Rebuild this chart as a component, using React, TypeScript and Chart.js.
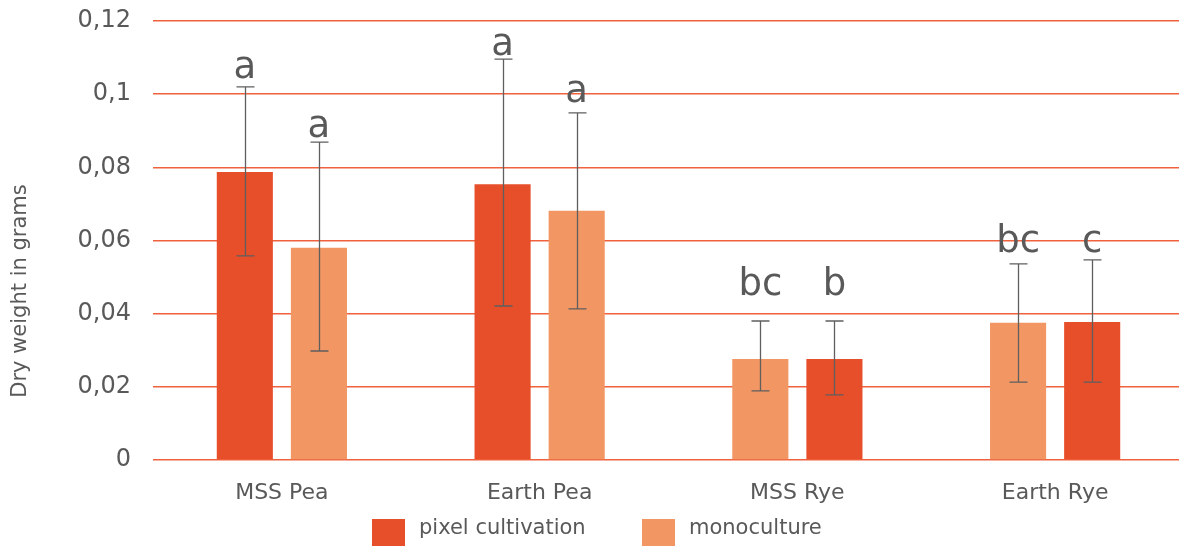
import React, { useEffect, useRef } from "react";
import { Chart, registerables } from "chart.js";

Chart.register(...registerables);

const categories = ["MSS Pea", "Earth Pea", "MSS Rye", "Earth Rye"];
const yTicks = [0, 0.02, 0.04, 0.06, 0.08, 0.1, 0.12];
const tickLabels = ["0", "0,02", "0,04", "0,06", "0,08", "0,1", "0,12"];

// first bar of each group
const firstValues = [0.0787, 0.0754, 0.0276, 0.0375];
const firstErrLow = [0.0558, 0.0421, 0.0189, 0.0213];
const firstErrHigh = [0.102, 0.1096, 0.038, 0.0536];
const firstSeries = ["pixel", "pixel", "mono", "mono"];
const firstLetters = ["a", "a", "bc", "bc"];
const firstLetterY = [0.1044, 0.1107, 0.0451, 0.0569];

// second bar of each group
const secondValues = [0.058, 0.0681, 0.0276, 0.0377];
const secondErrLow = [0.0298, 0.0413, 0.0178, 0.0213];
const secondErrHigh = [0.0869, 0.0949, 0.038, 0.0547];
const secondSeries = ["mono", "mono", "pixel", "pixel"];
const secondLetters = ["a", "a", "b", "c"];
const secondLetterY = [0.0883, 0.0979, 0.0451, 0.0569];

const legendLabels = ["pixel cultivation", "monoculture"];
const COLORS: Record<string, string> = { pixel: "#E64F2A", mono: "#F29763" };
const GRID = "#F0623E";
const TEXT = "#595959";
const FONT = "'DejaVu Sans', Verdana, sans-serif";

const overlay = {
  id: "overlay",
  afterDatasetsDraw(chart: any) {
    const { ctx } = chart;
    const y = chart.scales.y;
    const sets = [
      { low: firstErrLow, high: firstErrHigh, letters: firstLetters, ly: firstLetterY },
      { low: secondErrLow, high: secondErrHigh, letters: secondLetters, ly: secondLetterY },
    ];
    ctx.save();
    sets.forEach((s, di) => {
      const meta = chart.getDatasetMeta(di);
      meta.data.forEach((bar: any, i: number) => {
        const x = Math.round(bar.x) + 0.5;
        const yl = y.getPixelForValue(s.low[i]);
        const yh = y.getPixelForValue(s.high[i]);
        ctx.strokeStyle = "#5f5f5f";
        ctx.lineWidth = 1.3;
        ctx.beginPath();
        ctx.moveTo(x, yl);
        ctx.lineTo(x, yh);
        ctx.moveTo(x - 9, yl);
        ctx.lineTo(x + 9, yl);
        ctx.moveTo(x - 9, yh);
        ctx.lineTo(x + 9, yh);
        ctx.stroke();
        ctx.fillStyle = TEXT;
        ctx.font = `37px ${FONT}`;
        ctx.textAlign = "center";
        ctx.textBaseline = "alphabetic";
        ctx.fillText(s.letters[i], bar.x, y.getPixelForValue(s.ly[i]));
      });
    });
    // y axis title
    ctx.save();
    ctx.translate(21, 291);
    ctx.rotate(-Math.PI / 2);
    ctx.font = `21px ${FONT}`;
    ctx.fillStyle = TEXT;
    ctx.textAlign = "center";
    ctx.textBaseline = "middle";
    ctx.fillText("Dry weight in grams", 0, 0);
    ctx.restore();
    // legend
    const items = [
      { label: legendLabels[0], color: COLORS.pixel, x: 372 },
      { label: legendLabels[1], color: COLORS.mono, x: 642 },
    ];
    items.forEach((it) => {
      ctx.fillStyle = it.color;
      ctx.fillRect(it.x, 519, 33, 30);
      ctx.fillStyle = TEXT;
      ctx.font = `21px ${FONT}`;
      ctx.textAlign = "left";
      ctx.textBaseline = "alphabetic";
      ctx.fillText(it.label, it.x + 47, 534);
    });
    ctx.restore();
  },
};

export default function App() {
  const ref = useRef<HTMLCanvasElement>(null);
  useEffect(() => {
    if (!ref.current) return;
    const chart = new Chart(ref.current, {
      type: "bar",
      data: {
        labels: categories,
        datasets: [
          {
            label: "first",
            data: firstValues,
            backgroundColor: firstSeries.map((s) => COLORS[s]),
            categoryPercentage: 0.575,
            barPercentage: 0.757,
          },
          {
            label: "second",
            data: secondValues,
            backgroundColor: secondSeries.map((s) => COLORS[s]),
            categoryPercentage: 0.575,
            barPercentage: 0.757,
          },
        ],
      },
      options: {
        animation: false,
        responsive: false,
        maintainAspectRatio: false,
        layout: { padding: { top: 21, right: 6, left: 0, bottom: 0 } },
        plugins: { legend: { display: false }, tooltip: { enabled: false } },
        scales: {
          x: {
            grid: { display: false, drawTicks: false },
            border: { display: false },
            ticks: { color: TEXT, font: { family: FONT, size: 22 }, padding: 20 },
            afterFit: (scale: any) => {
              scale.height = 86;
              scale.paddingLeft = 0;
              scale.paddingRight = 0;
            },
          },
          y: {
            min: 0,
            max: 0.12,
            afterBuildTicks: (scale: any) => {
              scale.ticks = yTicks.map((v) => ({ value: v }));
            },
            afterFit: (scale: any) => {
              scale.width = 153;
              scale.paddingTop = 0;
              scale.paddingBottom = 0;
            },
            grid: { color: GRID, lineWidth: 1.5, drawTicks: false },
            border: { display: false },
            ticks: {
              color: TEXT,
              font: { family: FONT, size: 24 },
              padding: 22,
              callback: (v: any) => {
                const idx = yTicks.findIndex((t) => Math.abs(t - Number(v)) < 1e-9);
                return idx >= 0 ? tickLabels[idx] : "";
              },
            },
          },
        },
      },
      plugins: [overlay],
    });
    return () => chart.destroy();
  }, []);
  return (
    <div style={{ position: "absolute", left: 0, top: 0, width: 1179, height: 546, overflow: "hidden", background: "#fff" }}>
      <canvas ref={ref} width={1190} height={546} style={{ display: "block" }} />
    </div>
  );
}
